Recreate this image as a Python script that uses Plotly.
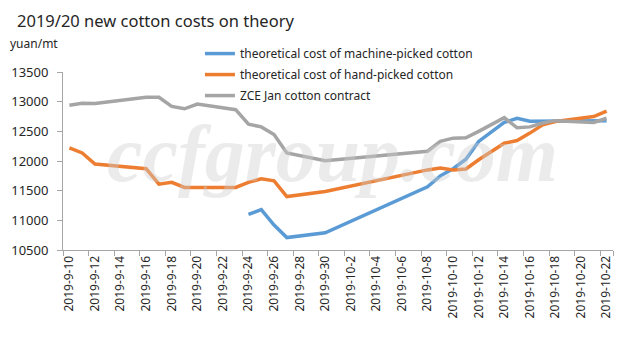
import plotly.graph_objects as go

dates = ["2019-9-%d" % d for d in range(10, 31)] + ["2019-10-%d" % d for d in range(1, 23)]

machine_picked = [None]*14 + [11100, 11180, 10920, 10710, None, None, 10790] + [None]*7 + \
    [11565, 11750, 11870, 12030, 12330, None, 12650, 12720, 12670, 12670, 12680, None, None, 12680, 12680]

hand_picked = [12220, 12135, 11950, None, None, None, 11870, 11610, 11640, 11555, None, None, None,
               11555, 11640, 11700, 11665, 11400, None, None, 11485] + [None]*7 + \
    [11850, 11880, 11850, 11865, 12020, None, 12300, 12345, 12470, 12610, 12665, None, None, 12750, 12840]

zce_jan = [12940, 12975, 12970, None, None, None, 13075, 13075, 12920, 12880, 12960, None, None,
           12865, 12620, 12575, 12445, 12135, None, None, 12005] + [None]*7 + \
    [12165, 12330, 12385, 12390, 12500, None, 12730, 12560, 12575, 12640, 12680, None, None, 12650, 12720]

series = [
    ("theoretical cost of machine-picked cotton", machine_picked, "#5B9BD5"),
    ("theoretical cost of hand-picked cotton", hand_picked, "#ED7D31"),
    ("ZCE Jan cotton contract", zce_jan, "#A5A5A5"),
]

FONT = "Noto Sans"
fig = go.Figure()
for i, (name, vals, col) in enumerate(series):
    fig.add_trace(go.Scatter(x=dates, y=vals, name=name, mode="lines",
                             line=dict(color=col, width=3.5), connectgaps=True,
                             legendgroup=str(i)))

fig.update_layout(
    width=641, height=342,
    margin=dict(l=63, r=28, t=72, b=92),
    plot_bgcolor="white", paper_bgcolor="white",
    font=dict(family=FONT, size=12, color="#262626"),
    showlegend=True,
    legend=dict(x=0.249, y=1.185, xanchor="left", yanchor="top",
                bgcolor="rgba(0,0,0,0)", tracegroupgap=2,
                font=dict(size=12, color="#262626")),
    xaxis=dict(type="category", categoryorder="array", categoryarray=dates,
               tickmode="array", tickvals=dates[::2], ticktext=dates[::2],
               tickson="boundaries", tickangle=-90, ticks="outside", ticklen=5,
               tickcolor="#A6A6A6", showline=True, linecolor="#A6A6A6", linewidth=1,
               showgrid=False, zeroline=False, range=[-0.5, 42.5],
               tickfont=dict(size=12, color="#262626")),
    yaxis=dict(range=[10500, 13500], tickvals=[10500, 11000, 11500, 12000, 12500, 13000, 13500],
               tickformat="d",
               ticks="outside", ticklen=5, tickcolor="#A6A6A6", showline=True,
               linecolor="#A6A6A6", linewidth=1, showgrid=False, zeroline=False,
               tickfont=dict(size=13, color="#262626"), ticklabelstandoff=6),
    annotations=[
        dict(text="ccfgroup.com", xref="paper", yref="paper",
             x=0.49, y=0.54, xanchor="center", yanchor="middle", showarrow=False,
             font=dict(size=80, family="Liberation Serif", style="italic", weight="bold",
                       color="rgba(205,205,205,0.4)")),
        dict(text="2019/20 new cotton costs on theory", xref="paper", yref="paper",
             x=-0.087, y=1.29, xanchor="left", yanchor="middle", showarrow=False,
             font=dict(size=16.5, family=FONT, color="#262626")),
        dict(text="yuan/mt", xref="paper", yref="paper",
             x=-0.1, y=1.16, xanchor="left", yanchor="middle", showarrow=False,
             font=dict(size=12, family=FONT, color="#262626")),
    ],
)
fig.write_html("out.html")
